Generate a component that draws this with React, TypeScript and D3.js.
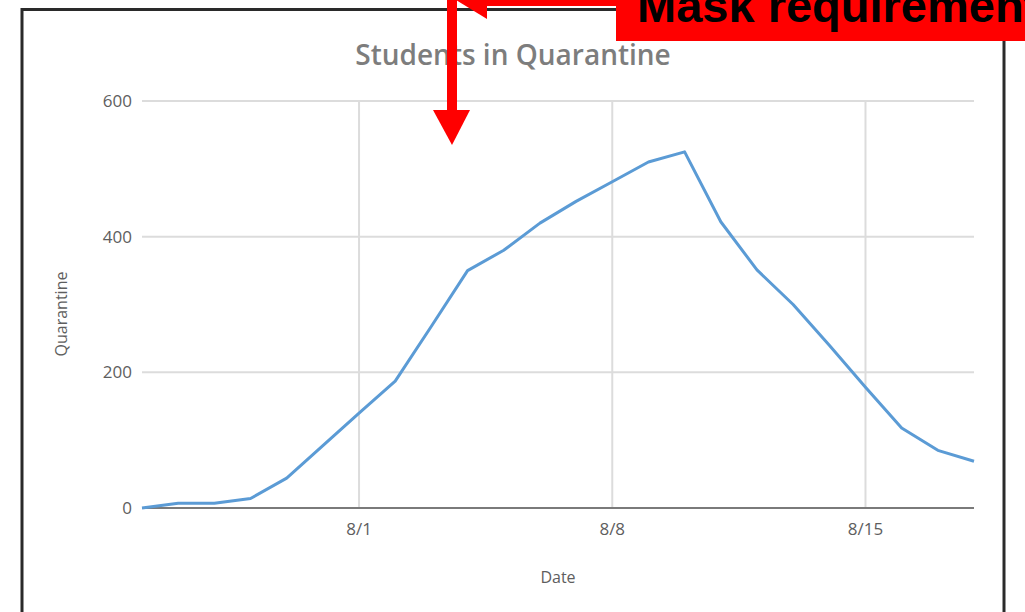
import React from "react";
import * as d3 from "d3";

const dates: string[] = [
  "2020-07-26", "2020-07-27", "2020-07-28", "2020-07-29", "2020-07-30", "2020-07-31",
  "2020-08-01", "2020-08-02", "2020-08-03", "2020-08-04", "2020-08-05", "2020-08-06",
  "2020-08-07", "2020-08-08", "2020-08-09", "2020-08-10", "2020-08-11", "2020-08-12",
  "2020-08-13", "2020-08-14", "2020-08-15", "2020-08-16", "2020-08-17", "2020-08-18",
];
const quarantine: number[] = [
  0, 7, 7, 14, 44, 92,
  140, 187, 268, 350, 380, 420,
  452, 481, 510, 525, 422, 351,
  300, 240, 178, 118, 85, 69,
];
const yTicks: number[] = [0, 200, 400, 600];
const xTickDates: string[] = ["2020-08-01", "2020-08-08", "2020-08-15"];
const xTickLabels: string[] = ["8/1", "8/8", "8/15"];
const title = "Students in Quarantine";
const xTitle = "Date";
const yTitle = "Quarantine";
const annotation = "Mask requirement";

export default function App() {
  const W = 1025, H = 612;
  const parse = d3.timeParse("%Y-%m-%d");
  const pts = dates.map((d, i) => ({ date: parse(d) as Date, v: quarantine[i] }));
  const x = d3.scaleTime()
    .domain([pts[0].date, pts[pts.length - 1].date])
    .range([142, 974]);
  const y = d3.scaleLinear().domain([0, 600]).range([508, 101]);
  const line = d3.line<{ date: Date; v: number }>()
    .x((d) => x(d.date))
    .y((d) => y(d.v));
  const [x0, x1] = x.range();
  const font = "'Open Sans', 'DejaVu Sans', sans-serif";
  const labelColor = "#5e5e5e";

  return (
    <svg width={W} height={H} style={{ position: "absolute", left: 0, top: 0 }}>
      <rect x={0} y={0} width={W} height={H} fill="#fff" />
      {/* frame */}
      <rect x={22} y={9.5} width={982} height={640} fill="none" stroke="#2a2a2a" strokeWidth={3} />
      {/* title */}
      <text x={513} y={65} textAnchor="middle" fontFamily={font} fontWeight={600} fontSize={28} fill="#7d7d7d">
        {title}
      </text>
      {/* horizontal gridlines */}
      {yTicks.filter((t) => t !== 0).map((t) => (
        <line key={"hg" + t} x1={x0} x2={x1} y1={y(t)} y2={y(t)} stroke="#dcdcdc" strokeWidth={2} />
      ))}
      {/* vertical gridlines */}
      {xTickDates.map((d) => {
        const xx = x(parse(d) as Date);
        return <line key={"vg" + d} x1={xx} x2={xx} y1={y(600)} y2={y(0)} stroke="#dcdcdc" strokeWidth={2} />;
      })}
      {/* x axis line */}
      <line x1={x0} x2={x1} y1={y(0)} y2={y(0)} stroke="#7a7a7a" strokeWidth={2} />
      {/* y tick labels */}
      {yTicks.map((t) => (
        <text key={"yt" + t} x={132} y={y(t)} dy="0.35em" textAnchor="end" fontFamily={font} fontSize={17} fill={labelColor}>
          {t}
        </text>
      ))}
      {/* x tick labels */}
      {xTickDates.map((d, i) => (
        <text key={"xt" + d} x={x(parse(d) as Date)} y={535} textAnchor="middle" fontFamily={font} fontSize={17} fill={labelColor}>
          {xTickLabels[i]}
        </text>
      ))}
      {/* axis titles */}
      <text x={(x0 + x1) / 2} y={583} textAnchor="middle" fontFamily={font} fontSize={16} fill={labelColor}>
        {xTitle}
      </text>
      <text transform={`translate(67,314) rotate(-90)`} textAnchor="middle" fontFamily={font} fontSize={16} fill={labelColor}>
        {yTitle}
      </text>
      {/* data line */}
      <path d={line(pts) || ""} fill="none" stroke="#5b9bd5" strokeWidth={3} strokeLinejoin="round" />
      {/* annotation arrows */}
      <rect x={447} y={-5} width={10} height={116} fill="#ff0000" />
      <polygon points="433,110 470,110 452,145" fill="#ff0000" />
      <rect x={470} y={-5} width={160} height={11} fill="#ff0000" />
      <polygon points="456,0 487,-19 487,19" fill="#ff0000" />
      {/* annotation box */}
      <rect x={616} y={-10} width={420} height={51} fill="#ff0000" />
      <text x={637} y={22} fontFamily="'Liberation Sans', Arial, sans-serif" fontWeight={700} fontSize={47} fill="#000">
        {annotation}
      </text>
    </svg>
  );
}
